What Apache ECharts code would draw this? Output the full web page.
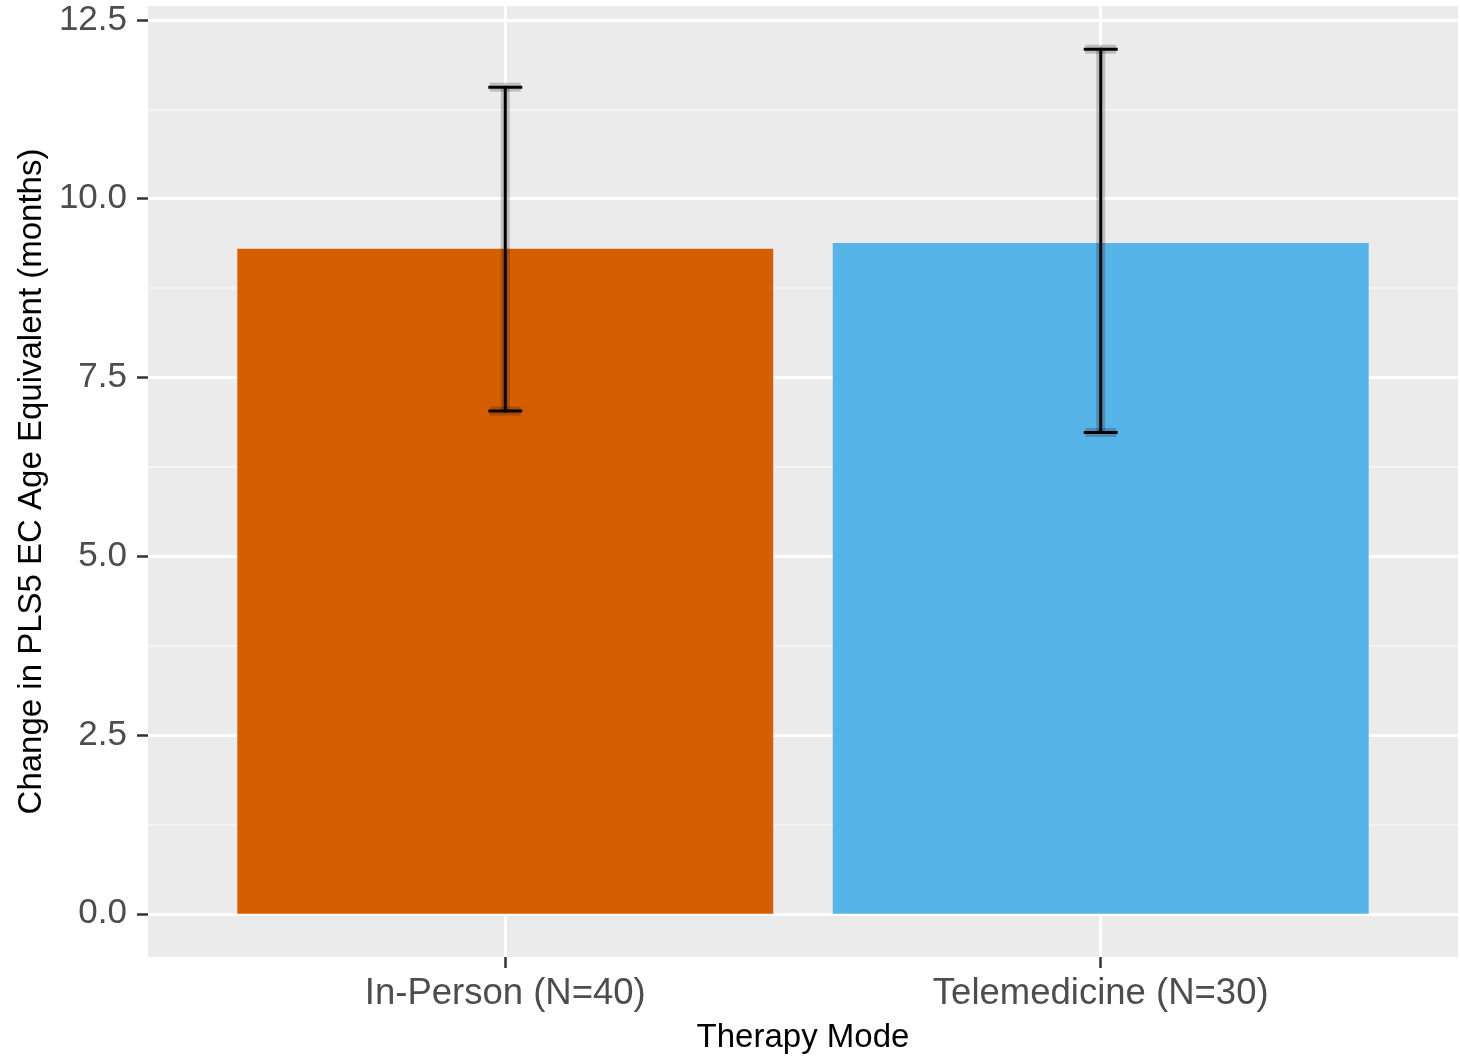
<!DOCTYPE html>
<html>
<head>
<meta charset="utf-8">
<script src="https://cdn.jsdelivr.net/npm/echarts@6/dist/echarts.min.js"></script>
<style>
  html, body { margin: 0; padding: 0; background: #ffffff; }
  #chart { width: 1460px; height: 1059px; }
</style>
</head>
<body>
<div id="chart"></div>
<script>
const categories = ['In-Person (N=40)', 'Telemedicine (N=30)'];
const means = [9.30, 9.38];
const lowerCI = [7.03, 6.73];
const upperCI = [11.56, 12.09];
const barColors = ['#D55E00', '#56B4E9'];
const yTicks = [0, 2.5, 5, 7.5, 10, 12.5];
const yMinorTicks = [1.25, 3.75, 6.25, 8.75, 11.25];
const xTitle = 'Therapy Mode';
const yTitle = 'Change in PLS5 EC Age Equivalent (months)';

const xPos = categories.map((c, i) => i + 1);
const dataTop = Math.max(...upperCI);
const yMin = -0.05 * dataTop;
const yMax = dataTop + 0.05 * dataTop;

const FONT = "'Liberation Sans', Arial, sans-serif";
const chart = echarts.init(document.getElementById('chart'), null, { renderer: 'canvas' });

const option = {
  backgroundColor: '#ffffff',
  animation: false,
  grid: {
    left: 148, right: 2, top: 6, bottom: 102,
    show: true, backgroundColor: '#EBEBEB', borderWidth: 0
  },
  xAxis: {
    type: 'value',
    min: 0.4, max: 2.6,
    name: xTitle,
    nameLocation: 'middle',
    nameGap: 64,
    nameTextStyle: { color: '#000000', fontSize: 33, fontFamily: FONT },
    axisLine: { show: false, onZero: false },
    axisTick: { show: true, length: 11, customValues: xPos, lineStyle: { color: '#333333', width: 2.5 } },
    axisLabel: {
      show: true, customValues: xPos, margin: 18,
      color: '#4D4D4D', fontSize: 36.5, fontFamily: FONT,
      formatter: v => categories[Math.round(v) - 1] || ''
    },
    splitLine: { show: true, lineStyle: { color: '#ffffff', width: 3 } }
  },
  yAxis: [{
    type: 'value',
    min: yMin, max: yMax,
    name: yTitle,
    nameLocation: 'middle',
    nameGap: 100,
    nameTextStyle: { color: '#000000', fontSize: 33, fontFamily: FONT },
    axisLine: { show: false, onZero: false },
    axisTick: { show: true, length: 11, customValues: yTicks, lineStyle: { color: '#333333', width: 2.5 } },
    axisLabel: {
      show: true, customValues: yTicks, margin: 21,
      color: '#4D4D4D', fontSize: 35, fontFamily: FONT,
      formatter: v => Number(v).toFixed(1)
    },
    splitLine: { show: true, lineStyle: { color: '#ffffff', width: 3 } }
  }, {
    type: 'value',
    min: yMin, max: yMax,
    position: 'left',
    axisLine: { show: false, onZero: false },
    axisTick: { show: false, customValues: yMinorTicks },
    axisLabel: { show: false, customValues: yMinorTicks },
    splitLine: { show: true, lineStyle: { color: '#F7F7F7', width: 1.5 } }
  }],
  series: [{
    type: 'custom',
    name: 'bars',
    xAxisIndex: 0, yAxisIndex: 0,
    z: 2,
    data: xPos.map((x, i) => [x, means[i], i]),
    renderItem: function (params, api) {
      const x = api.value(0), y = api.value(1), idx = api.value(2);
      const p1 = api.coord([x - 0.45, y]);
      const p2 = api.coord([x + 0.45, 0]);
      return {
        type: 'rect',
        shape: { x: p1[0], y: p1[1], width: p2[0] - p1[0], height: p2[1] - p1[1] },
        style: { fill: barColors[idx] }
      };
    }
  }, {
    type: 'custom',
    name: 'errorbars',
    xAxisIndex: 0, yAxisIndex: 0,
    z: 3,
    data: xPos.map((x, i) => [x, lowerCI[i], upperCI[i]]),
    renderItem: function (params, api) {
      const x = api.value(0), lo = api.value(1), hi = api.value(2);
      const w = 0.026;
      const pLo = api.coord([x, lo]);
      const pHi = api.coord([x, hi]);
      const tl = api.coord([x - w, hi]), tr = api.coord([x + w, hi]);
      const bl = api.coord([x - w, lo]), br = api.coord([x + w, lo]);
      const segs = [[pLo, pHi], [tl, tr], [bl, br]];
      const children = [];
      segs.forEach(s => children.push({
        type: 'line',
        shape: { x1: s[0][0], y1: s[0][1], x2: s[1][0], y2: s[1][1] },
        style: { stroke: 'rgba(0,0,0,0.2)', lineWidth: 9, lineCap: 'butt' }
      }));
      segs.forEach(s => children.push({
        type: 'line',
        shape: { x1: s[0][0], y1: s[0][1], x2: s[1][0], y2: s[1][1] },
        style: { stroke: '#000000', lineWidth: 3, lineCap: 'square' }
      }));
      return { type: 'group', children: children };
    }
  }]
};
chart.setOption(option);
</script>
</body>
</html>
